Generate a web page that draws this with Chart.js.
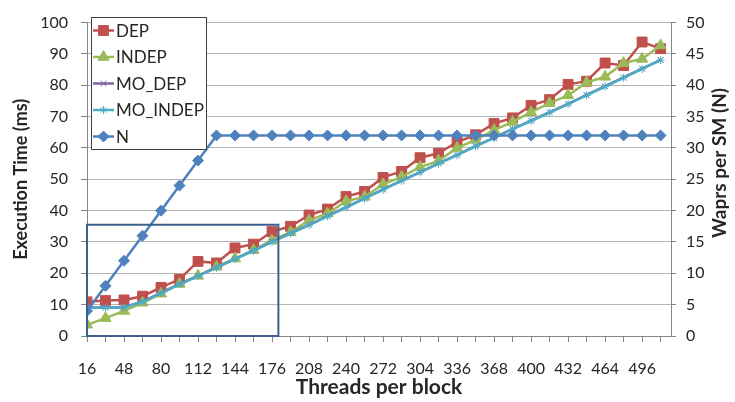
<!DOCTYPE html>
<html>
<head>
<meta charset="utf-8">
<script src="https://cdn.jsdelivr.net/npm/chart.js@4.4.1/dist/chart.umd.min.js"></script>
<style>
  html, body { margin: 0; padding: 0; background: #fff; }
  #wrap { width: 735px; height: 402px; }
</style>
</head>
<body>
<div id="wrap"><canvas id="chart" width="735" height="402"></canvas></div>
<script>
// threads per block (x categories)
const threads = [16, 32, 48, 64, 80, 96, 112, 128, 144, 160, 176, 192, 208, 224, 240, 256,
  272, 288, 304, 320, 336, 352, 368, 384, 400, 416, 432, 448, 464, 480, 496, 512];

// execution time (ms)
const dep = [10.9, 11.3, 11.5, 12.7, 15.5, 18.1, 23.8, 23.3, 28.1, 29.3, 33.3, 35.0, 38.6, 40.5, 44.5, 46.1,
  50.6, 52.5, 56.9, 58.3, 61.9, 64.2, 67.8, 69.6, 73.6, 75.4, 80.3, 81.3, 87.1, 86.3, 93.8, 91.7];
const indep = [3.6, 5.7, 8.0, 10.6, 13.5, 16.6, 19.2, 22.1, 24.7, 27.4, 30.5, 33.1, 36.9, 39.1, 43.0, 44.4,
  48.4, 50.8, 53.9, 55.9, 60.0, 62.6, 65.7, 68.3, 71.4, 74.3, 76.8, 80.9, 82.7, 87.1, 88.4, 92.7];
const moDep = [9.1, 9.1, 9.2, 11.0, 13.8, 16.6, 19.2, 21.9, 24.6, 27.3, 30.1, 32.8, 35.5, 38.3, 41.1, 43.9,
  46.8, 49.6, 52.3, 55.1, 57.8, 60.6, 63.3, 66.1, 68.7, 71.4, 74.1, 76.9, 79.7, 82.5, 85.3, 88.1];
const moIndep = [9.0, 9.0, 9.1, 10.9, 13.7, 16.5, 19.1, 21.8, 24.5, 27.2, 30.0, 32.7, 35.4, 38.2, 41.0, 43.8,
  46.7, 49.5, 52.2, 55.0, 57.7, 60.5, 63.2, 66.0, 68.6, 71.3, 74.0, 76.8, 79.6, 82.4, 85.2, 88.0];

// warps per SM (right axis)
const warps = [4, 8, 12, 16, 20, 24, 28, 32, 32, 32, 32, 32, 32, 32, 32, 32,
  32, 32, 32, 32, 32, 32, 32, 32, 32, 32, 32, 32, 32, 32, 32, 32];

// axis ranges / tick steps
const timeTicks = { min: 0, max: 100, step: 10 };
const warpTicks = { min: 0, max: 50, step: 5 };

// highlighted region (threads, ms)
const zoomBox = { x0: 16, x1: 181.5, y0: 0, y1: 35.5 };

const FONT = "Lato, 'Open Sans', sans-serif";
const TXT = "#262626";
const RIGHT_TITLE = "Waprs per SM (N)";

function pairs(ys) {
  return threads.map((t, i) => ({ x: t, y: ys[i] }));
}

function series(label, data, color, style, radius, order, axis) {
  return {
    label, data: pairs(data), yAxisID: axis || "y",
    borderColor: color, backgroundColor: color,
    pointBackgroundColor: color, pointBorderColor: color,
    pointStyle: style, pointRadius: radius, pointBorderWidth: 1,
    borderWidth: 2.5, tension: 0, order
  };
}

// box around the small-block region
const boxPlugin = {
  id: "boxPlugin",
  afterDatasetsDraw(chart) {
    const { ctx, scales } = chart;
    const l = scales.x.getPixelForValue(zoomBox.x0);
    const r = scales.x.getPixelForValue(zoomBox.x1);
    const t = scales.y.getPixelForValue(zoomBox.y1);
    const b = scales.y.getPixelForValue(zoomBox.y0);
    ctx.save();
    ctx.strokeStyle = "#3b5f8e";
    ctx.lineWidth = 2;
    ctx.strokeRect(l, t, r - l, b - t);
    ctx.restore();
  }
};

// right axis title, reading bottom to top
const rightTitle = {
  id: "rightTitle",
  afterDraw(chart) {
    const ctx = chart.ctx;
    ctx.save();
    ctx.translate(720, 163);
    ctx.rotate(-Math.PI / 2);
    ctx.fillStyle = TXT;
    ctx.font = "bold 19px " + FONT;
    ctx.textAlign = "center";
    ctx.textBaseline = "middle";
    ctx.fillText(RIGHT_TITLE, 0, 0);
    ctx.restore();
  }
};

// excel-style legend: line + marker per series, boxed
const legendBox = {
  id: "legendBox",
  afterDraw(chart) {
    const ctx = chart.ctx;
    const x = 91, y = 17, w = 115, h = 132;
    ctx.save();
    ctx.fillStyle = "#fff";
    ctx.fillRect(x, y, w, h);
    ctx.strokeStyle = "#404040";
    ctx.lineWidth = 1;
    ctx.strokeRect(x + 0.5, y + 0.5, w, h);
    chart.data.datasets.forEach((ds, i) => {
      const cy = y + 13.5 + i * 26.5;
      ctx.strokeStyle = ds.borderColor;
      ctx.lineWidth = 2.5;
      ctx.beginPath();
      ctx.moveTo(x + 2, cy);
      ctx.lineTo(x + 23, cy);
      ctx.stroke();
      ctx.lineWidth = 1;
      ctx.fillStyle = ds.pointBackgroundColor;
      ctx.strokeStyle = ds.pointBorderColor;
      Chart.helpers.drawPoint(ctx, {
        pointStyle: ds.pointStyle, radius: ds.pointRadius, borderWidth: 1, rotation: 0
      }, x + 12.5, cy);
      ctx.fillStyle = TXT;
      ctx.font = "17px " + FONT;
      ctx.textBaseline = "middle";
      ctx.textAlign = "left";
      ctx.fillText(ds.label, x + 25, cy + 1);
    });
    ctx.restore();
  }
};

new Chart(document.getElementById("chart"), {
  type: "line",
  data: {
    datasets: [
      series("DEP", dep, "#c0504d", "rect", 7, 5),
      series("INDEP", indep, "#9bbb59", "triangle", 6.5, 4),
      series("MO_DEP", moDep, "#8064a2", "crossRot", 4, 3),
      series("MO_INDEP", moIndep, "#4bacc6", "star", 4, 2),
      series("N", warps, "#4f81bd", "rectRot", 5.5, 1, "y1")
    ]
  },
  options: {
    responsive: false,
    animation: false,
    layout: { padding: { top: 12, right: 0, left: 0, bottom: 0 } },
    plugins: { legend: { display: false }, tooltip: { enabled: false } },
    scales: {
      x: {
        type: "linear",
        min: threads[0],
        max: 521,
        afterBuildTicks(scale) {
          scale.ticks = threads.map(v => ({ value: v }));
        },
        afterFit(scale) { scale.height = 66; },
        grid: {
          drawOnChartArea: false, drawTicks: true, tickLength: 6,
          color: "#868686"
        },
        border: { color: "#868686", width: 1 },
        ticks: {
          autoSkip: false, maxRotation: 0, padding: 17,
          color: TXT, font: { family: FONT, size: 16 },
          callback: (v) => ((v - threads[0]) % 32 === 0 ? String(v) : "")
        },
        title: {
          display: true, text: "Threads per block", color: TXT,
          font: { family: FONT, size: 21, weight: "bold" },
          padding: { top: 0, bottom: 2 }
        }
      },
      y: {
        position: "left",
        min: timeTicks.min, max: timeTicks.max,
        afterFit(scale) { scale.width = 87; },
        grid: { color: "#b4b4b4", lineWidth: 1, tickLength: 6, tickColor: "#868686" },
        border: { color: "#868686", width: 1 },
        ticks: {
          stepSize: timeTicks.step, padding: 13, color: TXT,
          font: { family: FONT, size: 16 }
        },
        title: {
          display: true, text: "Execution Time (ms)", color: TXT,
          font: { family: FONT, size: 18, weight: "bold" },
          padding: { top: 10, bottom: 0 }
        }
      },
      y1: {
        position: "right",
        min: warpTicks.min, max: warpTicks.max,
        afterFit(scale) { scale.width = 64; },
        grid: { drawOnChartArea: false, tickLength: 5, color: "#868686" },
        border: { color: "#868686", width: 1 },
        ticks: {
          stepSize: warpTicks.step, padding: 10, color: TXT,
          font: { family: FONT, size: 16 }
        }
      }
    }
  },
  plugins: [boxPlugin, legendBox, rightTitle]
});
</script>
</body>
</html>
